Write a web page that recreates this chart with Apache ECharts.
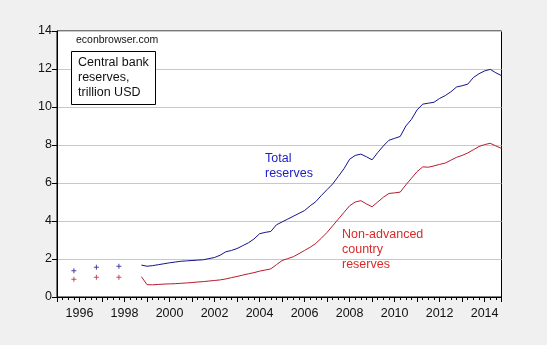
<!DOCTYPE html>
<html><head><meta charset="utf-8">
<script src="https://cdn.jsdelivr.net/npm/echarts@6/dist/echarts.min.js"></script>
<style>html,body{margin:0;padding:0;background:#f0f0f0}#c{width:547px;height:345px}</style>
</head><body><div id="c"></div>
<script>
// Quarterly dates (fractional years) for the continuous series
var dates = [1998.75,
 1999.00,1999.25,1999.50,1999.75,2000.00,2000.25,2000.50,2000.75,
 2001.00,2001.25,2001.50,2001.75,2002.00,2002.25,2002.50,2002.75,
 2003.00,2003.25,2003.50,2003.75,2004.00,2004.25,2004.50,2004.75,
 2005.00,2005.25,2005.50,2005.75,2006.00,2006.25,2006.50,2006.75,
 2007.00,2007.25,2007.50,2007.75,2008.00,2008.25,2008.50,2008.75,
 2009.00,2009.25,2009.50,2009.75,2010.00,2010.25,2010.50,2010.75,
 2011.00,2011.25,2011.50,2011.75,2012.00,2012.25,2012.50,2012.75,
 2013.00,2013.25,2013.50,2013.75,2014.00,2014.25,2014.50,2014.75];
var totalReserves = [1.68,
 1.62,1.65,1.70,1.75,1.80,1.84,1.88,1.90,
 1.92,1.94,1.96,2.02,2.08,2.20,2.38,2.45,
 2.55,2.70,2.85,3.05,3.33,3.40,3.45,3.80,
 3.95,4.10,4.25,4.40,4.55,4.80,5.02,5.35,
 5.65,5.95,6.35,6.75,7.25,7.45,7.52,7.38,
 7.22,7.60,7.95,8.25,8.35,8.45,9.00,9.35,
 9.85,10.15,10.20,10.25,10.45,10.60,10.80,11.05,
 11.12,11.20,11.55,11.75,11.90,11.98,11.80,11.65];
var nonAdvanced = [1.07,
 0.65,0.64,0.66,0.68,0.69,0.70,0.72,0.74,
 0.76,0.79,0.81,0.84,0.87,0.90,0.95,1.02,
 1.08,1.15,1.22,1.28,1.36,1.42,1.48,1.70,
 1.92,2.02,2.12,2.28,2.45,2.62,2.82,3.10,
 3.40,3.75,4.10,4.45,4.80,5.00,5.07,4.90,
 4.75,5.00,5.25,5.45,5.48,5.52,5.90,6.25,
 6.60,6.85,6.83,6.90,6.98,7.05,7.20,7.35,
 7.45,7.58,7.75,7.92,8.02,8.09,7.95,7.82];
// Early annual observations (plotted as + markers)
var earlyDates = [1995.75, 1996.75, 1997.75];
var earlyTotal = [1.38, 1.56, 1.62];
var earlyNonAdv = [0.93, 1.04, 1.04];
var yTicks = [0,2,4,6,8,10,12,14];

function pairs(xs, ys){ return xs.map(function(x,i){ return [x, ys[i]]; }); }
var plus = 'path://M2,0 L3,0 L3,2 L5,2 L5,3 L3,3 L3,5 L2,5 L2,3 L0,3 L0,2 L2,2 Z';
var FONT = 'Arial, "Liberation Sans", sans-serif';
var BLUE = '#14148c', RED = '#b81a2c';

var chart = echarts.init(document.getElementById('c'), null, {renderer:'canvas'});
chart.setOption({
  backgroundColor: '#f0f0f0',
  animation: false,
  grid: {left: 57, top: 31, right: 45.5, bottom: 48, show: true,
         backgroundColor: '#ffffff', borderColor: '#000000', borderWidth: 1},
  xAxis: {type: 'value', min: 1995, max: 2014.75, interval: 1,
    axisLine: {lineStyle: {color: '#000', width: 1}},
    axisTick: {show: true, length: 5, lineStyle: {color: '#000'}},
    minorTick: {show: true, splitNumber: 4, length: 3, lineStyle: {color: '#000'}},
    splitLine: {show: false},
    axisLabel: {color: '#111', fontFamily: FONT, fontSize: 12.5, margin: 10,
      formatter: function(v){ var r = Math.round(v); return (Math.abs(v-r)<1e-6 && r%2===0) ? String(r) : ''; }},
  },
  yAxis: {type: 'value', min: yTicks[0], max: yTicks[yTicks.length-1], interval: 2,
    axisLine: {show: true, lineStyle: {color: '#000'}},
    axisTick: {show: true, length: 5, lineStyle: {color: '#000'}},
    splitLine: {show: true, lineStyle: {color: '#c8c8c8', width: 1}},
    axisLabel: {color: '#111', fontFamily: FONT, fontSize: 12.5, margin: 5}
  },
  series: [
    {type: 'line', data: pairs(dates, totalReserves), showSymbol: false,
     lineStyle: {color: BLUE, width: 1}, z: 3},
    {type: 'line', data: pairs(dates, nonAdvanced), showSymbol: false,
     lineStyle: {color: RED, width: 1}, z: 3},
    {type: 'scatter', data: pairs(earlyDates, earlyTotal), symbol: plus, symbolSize: 5,
     itemStyle: {color: BLUE}},
    {type: 'scatter', data: pairs(earlyDates, earlyNonAdv), symbol: plus, symbolSize: 5,
     itemStyle: {color: RED}}
  ],
  graphic: [
    {type: 'text', left: 76, top: 35, z: 10,
     style: {text: 'econbrowser.com', font: '10.5px ' + FONT, fill: '#111'}},
    {type: 'rect', shape: {x: 71.5, y: 51.5, width: 84, height: 53}, z: 9,
     style: {fill: '#fff', stroke: '#000', lineWidth: 1}},
    {type: 'text', left: 78, top: 55, z: 10,
     style: {text: 'Central bank\nreserves,\ntrillion USD', font: '12.5px ' + FONT, lineHeight: 15, fill: '#111'}},
    {type: 'text', left: 265, top: 151, z: 10,
     style: {text: 'Total\nreserves', font: '12.5px ' + FONT, lineHeight: 15, fill: '#2020c8'}},
    {type: 'text', left: 342, top: 227, z: 10,
     style: {text: 'Non-advanced\ncountry\nreserves', font: '12.5px ' + FONT, lineHeight: 15, fill: '#d82a2a'}}
  ]
});
</script></body></html>
